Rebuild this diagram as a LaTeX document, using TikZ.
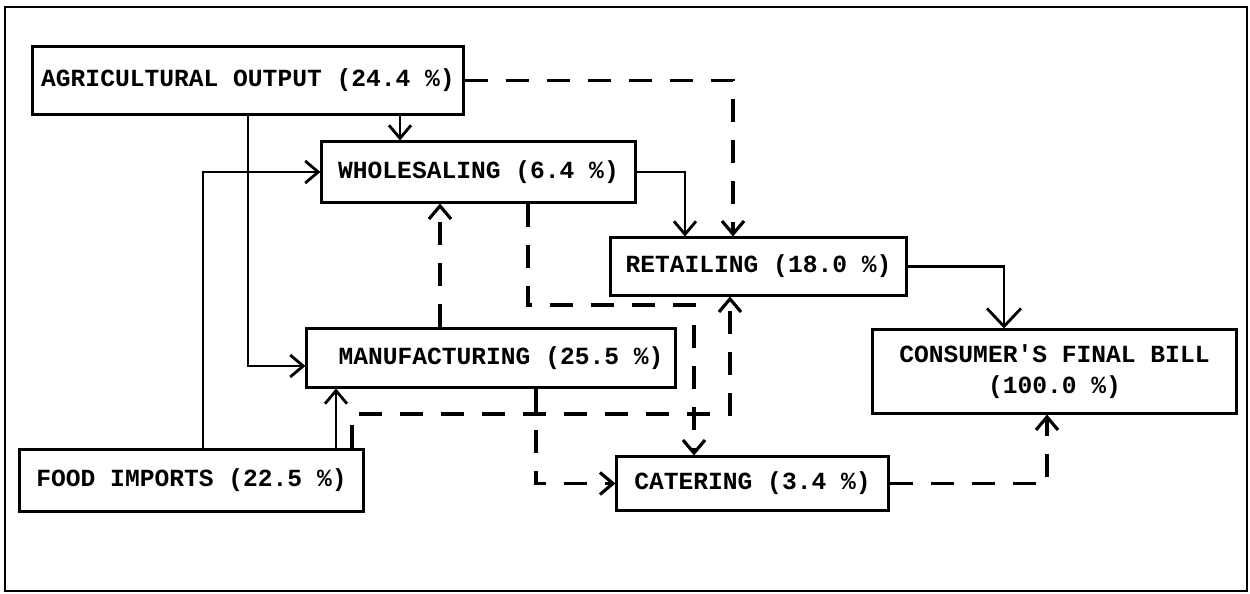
\documentclass[tikz,border=0pt]{standalone}
\usepackage{fontspec}
\usepackage{tikz}
\usetikzlibrary{arrows.meta, positioning, calc}
\newfontfamily\typefont{Liberation Mono}
\tikzset{
	box/.style={rectangle, draw=black, line width=0.85pt, inner sep=0pt, align=center, font=\typefont\bfseries\fontsize{7}{9}\selectfont},
	flowarrow/.style={-{Straight Barb[length=1.3mm, width=2.2mm]}, line width=0.8pt},
	dasharrow/.style={flowarrow, line width=0.9pt, dash pattern=on 2.3mm off 1.8mm},
	% outer border of the figure
	frame/.style={draw=black, line width=0.7pt},
}
\begin{document}
\begin{tikzpicture}[x=0.01cm, y=-0.01cm]
	\useasboundingbox (0,0) rectangle (1250,594);
	\draw[frame] (5,7) rectangle (1247,591);
	% sectors
	\node[box, minimum width=4.30cm, minimum height=0.67cm] (agri) at (248,80.5) {AGRICULTURAL OUTPUT (24.4 \%)};
	\node[box, minimum width=3.13cm, minimum height=0.60cm] (whole) at (478.5,172) {WHOLESALING (6.4 \%)};
	\node[box, minimum width=2.95cm, minimum height=0.57cm] (retail) at (758.5,266.5) {RETAILING (18.0 \%)};
	\node[box, minimum width=3.68cm, minimum height=0.58cm] (manuf) at (491,358) {\hspace*{0.2cm}MANUFACTURING (25.5 \%)};
	\node[box, minimum width=3.63cm, minimum height=0.83cm] (consumer) at (1054.5,371.5) {CONSUMER\textquotesingle S FINAL BILL\\(100.0 \%)};
	\node[box, minimum width=3.43cm, minimum height=0.61cm] (food) at (191.5,480.5) {FOOD IMPORTS (22.5 \%)};
	\node[box, minimum width=2.71cm, minimum height=0.53cm] (cater) at (752.5,483.5) {CATERING (3.4 \%)};
	% solid flows
	\draw[flowarrow] (400,0 |- agri.south) -- (400,0 |- whole.north);
	\draw[flowarrow] (agri.south) |- (manuf.west |- 0,366);
	\draw[flowarrow] (203,0 |- food.north) |- (whole.west);
	\draw[flowarrow] (336,0 |- food.north) -- (336,0 |- manuf.south);
	\draw[flowarrow] (whole.east) -| (685,0 |- retail.north);
	\draw[flowarrow, -{Straight Barb[length=1.8mm, width=3.4mm]}] (retail.east) -| (1004,0 |- consumer.north);
	% dashed flows
	\draw[dasharrow] (agri.east) -| (733,0 |- retail.north);
	\draw[dasharrow] (440,0 |- manuf.north) -- (440,0 |- whole.south);
	\draw[dasharrow] (528,0 |- whole.south) -- (528,305) -| (694,0 |- cater.north);
	\draw[dasharrow] (352,0 |- food.north) -- (352,414) -| (730,0 |- retail.south);
	\draw[dasharrow] (536,0 |- manuf.south) |- (cater.west);
	\draw[dasharrow] (cater.east) -| (1047,0 |- consumer.south);
\end{tikzpicture}
\end{document}
